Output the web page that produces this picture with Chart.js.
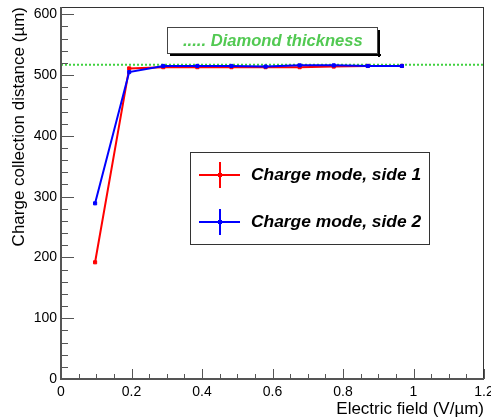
<!DOCTYPE html>
<html><head><meta charset="utf-8">
<script src="https://cdn.jsdelivr.net/npm/chart.js@4/dist/chart.umd.min.js"></script>
<style>html,body{margin:0;padding:0;background:#fff}</style>
</head><body>
<canvas id="c" width="491" height="419" style="width:491px;height:419px;display:block"></canvas>
<script>
const fieldValues = [0.0967, 0.1934, 0.2901, 0.3868, 0.4836, 0.5803, 0.6770, 0.7737, 0.8704, 0.9671];
const side1Values = [192, 511, 513, 513, 513, 513, 513, 514, 515, 515];
const side2Values = [289, 505, 515, 515, 515, 514, 516, 516, 515, 515];
const diamondThickness = 517;
const xTickValues = [0, 0.2, 0.4, 0.6, 0.8, 1, 1.2];
const xTickLabels = ['0', '0.2', '0.4', '0.6', '0.8', '1', '1.2'];
const yTickValues = [0, 100, 200, 300, 400, 500, 600];
const yTickLabels = ['0', '100', '200', '300', '400', '500', '600'];
const seriesNames = ['Charge mode, side 1', 'Charge mode, side 2'];
const thicknessLabel = '..... Diamond thickness';
const xTitle = 'Electric field (V/\u00b5m)';
const yTitle = 'Charge collection distance (\u00b5m)';

const RED = '#ff0000', BLUE = '#0000ff', GREEN = '#3fd13f', TEXTGREEN = '#52c952';
const FONT = '"Liberation Sans", Arial, Helvetica, sans-serif';

const pts = (xs, ys) => xs.map((x, i) => ({x: x, y: ys[i]}));

const rootPlugin = {
  id: 'rootStyle',
  afterDraw(chart) {
    const ctx = chart.ctx, ca = chart.chartArea;
    const xs = chart.scales.x, ys = chart.scales.y;
    ctx.save();
    // frame
    ctx.strokeStyle = '#333';
    ctx.lineWidth = 1;
    ctx.strokeRect(ca.left + 0.5, ca.top + 0.5, ca.right - ca.left - 1, ca.bottom - ca.top - 1);
    // axes
    ctx.strokeStyle = '#555';
    ctx.lineWidth = 2;
    ctx.beginPath();
    ctx.moveTo(ca.left, ca.top); ctx.lineTo(ca.left, ca.bottom); ctx.lineTo(ca.right, ca.bottom);
    ctx.stroke();
    // ticks
    ctx.lineWidth = 1;
    ctx.beginPath();
    for (let v = 0; v <= 600.001; v += 20) {
      const y = Math.round(ys.getPixelForValue(v)) + 0.5;
      const major = Math.abs(v / 100 - Math.round(v / 100)) < 1e-6;
      ctx.moveTo(ca.left, y); ctx.lineTo(ca.left + (major ? 13 : 7), y);
    }
    for (let v = 0; v <= 1.2001; v += 0.05) {
      const x = Math.round(xs.getPixelForValue(v)) + 0.5;
      const major = Math.abs(v / 0.2 - Math.round(v / 0.2)) < 1e-6;
      ctx.moveTo(x, ca.bottom); ctx.lineTo(x, ca.bottom - (major ? 10 : 5));
    }
    ctx.stroke();

    // legend 1: diamond thickness
    const b1 = {l: 167, t: 27, r: 378, b: 54};
    ctx.fillStyle = '#000';
    ctx.fillRect(b1.l + 3, b1.b, b1.r - b1.l, 2);
    ctx.fillRect(b1.r, b1.t + 3, 2, b1.b - b1.t);
    ctx.fillStyle = '#fff';
    ctx.fillRect(b1.l, b1.t, b1.r - b1.l, b1.b - b1.t);
    ctx.strokeStyle = '#444';
    ctx.strokeRect(b1.l + 0.5, b1.t + 0.5, b1.r - b1.l - 1, b1.b - b1.t - 1);
    ctx.fillStyle = TEXTGREEN;
    ctx.font = 'italic bold 16.6px ' + FONT;
    ctx.textBaseline = 'middle';
    ctx.textAlign = 'left';
    ctx.fillText(thicknessLabel, 183, 41);

    // legend 2
    const b2 = {l: 190, t: 152, r: 430, b: 245};
    ctx.fillStyle = '#fff';
    ctx.fillRect(b2.l, b2.t, b2.r - b2.l, b2.b - b2.t);
    ctx.strokeStyle = '#333';
    ctx.strokeRect(b2.l + 0.5, b2.t + 0.5, b2.r - b2.l - 1, b2.b - b2.t - 1);
    const rows = [{y: 175, c: RED}, {y: 222, c: BLUE}];
    rows.forEach((r, i) => {
      ctx.strokeStyle = r.c; ctx.lineWidth = 2;
      ctx.beginPath();
      ctx.moveTo(199, r.y); ctx.lineTo(240, r.y);
      ctx.moveTo(220, r.y - 13); ctx.lineTo(220, r.y + 13);
      ctx.stroke();
      ctx.fillStyle = r.c;
      ctx.fillRect(218, r.y - 2, 4, 4);
      ctx.fillStyle = '#000';
      ctx.font = 'italic bold 17.4px ' + FONT;
      ctx.fillText(seriesNames[i], 251, r.y);
    });
    ctx.restore();
  }
};

new Chart(document.getElementById('c'), {
  type: 'scatter',
  data: {
    datasets: [
      {label: seriesNames[1], data: pts(fieldValues, side2Values), showLine: true,
       borderColor: BLUE, backgroundColor: BLUE, borderWidth: 2, pointStyle: 'rect',
       pointRadius: 2.2, pointBorderWidth: 1, order: 0},
      {label: seriesNames[0], data: pts(fieldValues, side1Values), showLine: true,
       borderColor: RED, backgroundColor: RED, borderWidth: 2, pointStyle: 'rect',
       pointRadius: 2.2, pointBorderWidth: 1, order: 1},
      {label: 'thickness', data: [{x: 0, y: diamondThickness}, {x: 1.2, y: diamondThickness}],
       showLine: true, borderColor: GREEN, borderWidth: 2, borderDash: [2, 2], pointRadius: 0, order: 2}
    ]
  },
  options: {
    responsive: false,
    animation: false,
    devicePixelRatio: 1,
    layout: {padding: {top: 7, right: 7, left: 0, bottom: 0}},
    plugins: {legend: {display: false}, tooltip: {enabled: false}},
    scales: {
      x: {
        type: 'linear', min: 0, max: 1.2,
        grid: {display: false, drawTicks: false},
        border: {display: false},
        afterBuildTicks: s => { s.ticks = xTickValues.map(v => ({value: v})); },
        afterFit: s => { s.height = 40; s.paddingLeft = 0; s.paddingRight = 0; },
        ticks: {
          padding: 5, color: '#000', maxRotation: 0, autoSkip: false,
          font: {family: FONT, size: 14},
          callback: (v) => { const i = xTickValues.findIndex(t => Math.abs(t - v) < 1e-9); return i >= 0 ? xTickLabels[i] : ''; }
        },
        title: {display: true, text: xTitle, align: 'end', color: '#000',
                font: {family: FONT, size: 17}, padding: {top: 0, bottom: -1}}
      },
      y: {
        type: 'linear', min: 0, max: 612,
        grid: {display: false, drawTicks: false},
        border: {display: false},
        afterBuildTicks: s => { s.ticks = yTickValues.map(v => ({value: v})); },
        afterFit: s => { s.width = 61; s.paddingTop = 0; s.paddingBottom = 0; },
        ticks: {
          padding: 4, color: '#000', autoSkip: false,
          font: {family: FONT, size: 14},
          callback: (v) => { const i = yTickValues.indexOf(v); return i >= 0 ? yTickLabels[i] : ''; }
        },
        title: {display: true, text: yTitle, align: 'end', color: '#000',
                font: {family: FONT, size: 17}, padding: {top: 9, bottom: 0}}
      }
    }
  },
  plugins: [rootPlugin]
});
</script>
</body></html>
